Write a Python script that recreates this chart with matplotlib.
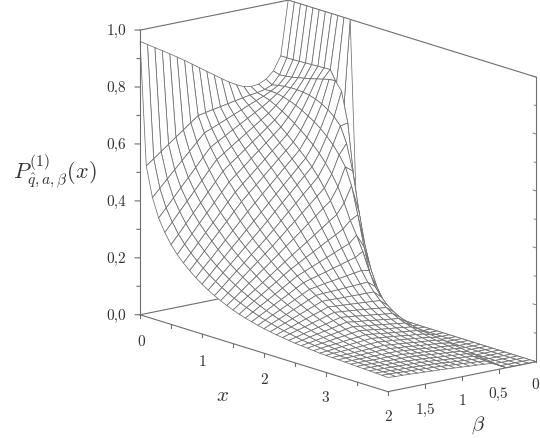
import matplotlib
matplotlib.use('Agg')
import numpy as np
import matplotlib.pyplot as plt

plt.rcParams['mathtext.fontset'] = 'cm'
plt.rcParams['axes.formatter.use_mathtext'] = True

LINE = '#6e6e6e'

x_values = [0.0, 0.1, 0.2, 0.3, 0.4, 0.5, 0.6, 0.7, 0.8, 0.9, 1.0, 1.1, 1.2, 1.3, 1.4, 1.5, 1.6, 1.7, 1.8, 1.9, 2.0,
            2.1, 2.2, 2.3, 2.4, 2.5, 2.6, 2.7, 2.8, 2.9, 3.0, 3.1, 3.2, 3.3, 3.4, 3.5, 3.6, 3.7, 3.8, 3.9, 4.0]
beta_values = [0.0, 0.1, 0.2, 0.3, 0.4, 0.5, 0.6, 0.7, 0.8, 0.9, 1.0, 1.1, 1.2, 1.3, 1.4, 1.5, 1.6, 1.7, 1.8, 1.9, 2.0]

# one row per beta
p_beta_00 = [1, 1, 1, 1, 1, 1, 1, 1, 1, 1, 1, .35, .23, .145, .088, .05, .027, .013, .006, .002, .001, 0, 0, 0, 0, 0, 0, 0, 0, 0, 0, 0, 0, 0, 0, 0, 0, 0, 0, 0, 0]
p_beta_01 = [.81, .81, .81, .811, .812, .813, .814, .815, .816, .775, .64, .40, .25, .16, .10, .062, .038, .023, .013, .007, .004, .002, .001, 0, 0, 0, 0, 0, 0, 0, 0, 0, 0, 0, 0, 0, 0, 0, 0, 0, 0]
p_beta_02 = [.762, .755, .757, .760, .765, .770, .775, .781, .787, .793, .795, .765, .660, .470, .310, .205, .140, .095, .065, .045, .030, .020, .013, .009, .006, .004, .002, .001, .001, 0, 0, 0, 0, 0, 0, 0, 0, 0, 0, 0, 0]
p_beta_03 = [.738, .725, .730, .733, .735, .735, .733, .729, .722, .712, .698, .680, .655, .600, .510, .375, .260, .180, .125, .085, .058, .040, .027, .018, .012, .008, .005, .003, .002, .001, 0, 0, 0, 0, 0, 0, 0, 0, 0, 0, 0]
p_beta_04 = [.726, .714, .715, .713, .708, .701, .692, .681, .668, .654, .637, .617, .594, .565, .530, .470, .375, .270, .180, .130, .100, .080, .064, .054, .047, .042, .037, .032, .027, .022, .017, .013, .009, .006, .004, .003, .002, .001, .001, 0, 0]
p_beta_05 = [.723, .708, .702, .694, .683, .670, .656, .640, .623, .605, .585, .562, .535, .503, .465, .415, .360, .315, .265, .205, .155, .125, .103, .087, .075, .066, .059, .054, .050, .047, .044, .041, .038, .035, .032, .028, .025, .022, .019, .016, .014]
p_beta_06 = [.728, .705, .692, .677, .661, .644, .626, .607, .587, .566, .544, .520, .492, .459, .421, .379, .335, .291, .249, .210, .176, .148, .125, .107, .093, .082, .073, .066, .060, .0545, .050, .046, .0425, .0395, .037, .0345, .0325, .0305, .029, .0275, .026]
p_beta_07 = [.740, .700, .681, .662, .643, .624, .604, .583, .562, .540, .518, .494, .466, .435, .400, .361, .320, .280, .242, .206, .175, .149, .127, .110, .096, .085, .076, .069, .063, .058, .053, .049, .045, .042, .039, .037, .035, .033, .031, .030, .028]
p_beta_08 = [.755, .695, .670, .647, .625, .603, .581, .560, .538, .515, .491, .467, .441, .411, .378, .342, .306, .269, .234, .202, .173, .149, .129, .113, .100, .089, .080, .073, .066, .060, .056, .051, .048, .044, .042, .039, .037, .035, .033, .032, .030]
p_beta_09 = [.772, .690, .659, .632, .607, .583, .559, .536, .513, .489, .465, .441, .415, .387, .357, .324, .291, .258, .227, .198, .172, .150, .131, .116, .103, .092, .083, .076, .069, .064, .059, .054, .050, .047, .044, .042, .039, .037, .035, .034, .032]
p_beta_10 = [.790, .685, .648, .617, .589, .562, .537, .512, .488, .463, .439, .415, .390, .363, .335, .305, .276, .247, .219, .194, .170, .150, .133, .119, .106, .096, .087, .079, .072, .067, .062, .057, .053, .050, .047, .044, .041, .039, .037, .036, .034]
p_beta_11 = [.808, .680, .637, .602, .571, .542, .514, .488, .463, .438, .412, .389, .364, .340, .314, .287, .262, .236, .212, .190, .169, .151, .135, .122, .110, .099, .090, .083, .076, .070, .065, .060, .056, .052, .049, .047, .044, .042, .040, .038, .036]
p_beta_12 = [.826, .675, .626, .587, .553, .522, .492, .465, .439, .412, .386, .362, .338, .316, .293, .269, .247, .225, .205, .185, .168, .152, .137, .124, .113, .102, .093, .086, .079, .073, .067, .062, .058, .055, .051, .049, .046, .044, .042, .040, .038]
p_beta_13 = [.844, .670, .615, .572, .535, .501, .470, .441, .414, .386, .360, .336, .313, .292, .271, .250, .232, .214, .197, .181, .166, .152, .139, .127, .116, .106, .097, .089, .082, .076, .070, .065, .061, .057, .054, .051, .048, .046, .044, .042, .040]
p_beta_14 = [.862, .650, .588, .542, .504, .469, .439, .411, .385, .358, .334, .311, .289, .270, .250, .231, .215, .198, .183, .168, .155, .142, .130, .120, .110, .101, .093, .086, .079, .074, .069, .064, .061, .057, .054, .052, .049, .047, .045, .043, .041]
p_beta_15 = [.879, .630, .561, .511, .472, .438, .408, .380, .355, .330, .307, .286, .266, .248, .230, .212, .197, .182, .168, .155, .143, .132, .122, .112, .103, .095, .088, .082, .077, .072, .067, .063, .060, .057, .055, .052, .050, .048, .046, .045, .043]
p_beta_16 = [.896, .610, .534, .481, .441, .406, .377, .350, .326, .302, .281, .261, .242, .226, .209, .193, .180, .166, .154, .142, .132, .122, .113, .105, .097, .090, .084, .079, .074, .070, .066, .062, .060, .057, .055, .053, .051, .049, .047, .046, .044]
p_beta_17 = [.912, .590, .507, .451, .410, .375, .346, .320, .297, .274, .254, .236, .219, .204, .189, .174, .162, .150, .140, .129, .120, .112, .104, .097, .091, .085, .080, .075, .071, .068, .064, .061, .059, .057, .055, .053, .052, .050, .048, .047, .046]
p_beta_18 = [.928, .570, .480, .420, .379, .343, .314, .289, .267, .246, .228, .211, .195, .181, .168, .156, .145, .135, .125, .117, .109, .102, .095, .090, .085, .080, .075, .072, .069, .066, .063, .060, .059, .057, .056, .054, .053, .051, .050, .049, .047]
p_beta_19 = [.944, .550, .452, .390, .347, .311, .283, .259, .238, .219, .201, .186, .171, .159, .147, .137, .128, .119, .111, .104, .098, .092, .087, .083, .078, .074, .071, .069, .066, .063, .062, .060, .059, .057, .056, .055, .053, .052, .051, .050, .048]
p_beta_20 = [.960, .530, .425, .360, .316, .280, .252, .229, .209, .191, .175, .161, .148, .137, .127, .118, .110, .103, .097, .091, .086, .082, .078, .075, .072, .069, .067, .065, .063, .061, .060, .059, .058, .057, .056, .055, .054, .053, .052, .051, .050]

z_major = [0.0, 0.2, 0.4, 0.6, 0.8, 1.0]
z_minor = [0.1, 0.3, 0.5, 0.7, 0.9]
z_labels = ['0,0', '0,2', '0,4', '0,6', '0,8', '1,0']
z_label_px = [316, 259, 202, 145, 88, 31]
x_ticks = [0, 0.5, 1, 1.5, 2, 2.5, 3, 3.5]
x_labels = ['0', '1', '2', '3']
x_label_px = [(141, 342), (202, 362), (264, 380), (325, 398)]
beta_ticks = [0.5, 1, 1.5, 2]
beta_labels = ['2', '1,5', '1', '0,5', '0']
beta_label_px = [(388, 417), (425, 410), (462, 401), (498, 394), (535, 385)]


def px_text(fig, x, y, s, **kw):
    fig.text(x / 540, 1 - y / 439, s, ha='center', va='center', color='#333333', **kw)


fig = plt.figure(figsize=(5.4, 4.39), dpi=100)
side = 512.3
ax = fig.add_axes([75 / 540, -21 / 439, side / 540, side / 439], projection='3d', proj_type='ortho')
ax.computed_zorder = False
ax.view_init(elev=14.5, azim=-38.9, roll=0)
ax.set_box_aspect((394.7, 190.3, 294))

Z = np.array([p_beta_00, p_beta_01, p_beta_02, p_beta_03, p_beta_04, p_beta_05, p_beta_06,
              p_beta_07, p_beta_08, p_beta_09, p_beta_10, p_beta_11, p_beta_12, p_beta_13,
              p_beta_14, p_beta_15, p_beta_16, p_beta_17, p_beta_18, p_beta_19, p_beta_20])
X, Y = np.meshgrid(x_values, beta_values)

# back of the box goes under the surface
ax.plot([0, 0], [2, 0], [0, 0], color=LINE, lw=0.8, zorder=1)
ax.plot([0, 4], [0, 0], [0, 0], color=LINE, lw=0.8, zorder=1)
ax.plot([0, 0], [0, 0], [0, 1], color=LINE, lw=0.8, zorder=1)
ax.plot([0, 0], [2, 0], [1, 1], color=LINE, lw=0.8, zorder=1)
ax.plot([0, 4], [0, 0], [1, 1], color=LINE, lw=0.8, zorder=1)
ax.plot([4, 4], [0, 0], [0, 1], color=LINE, lw=0.8, zorder=1)

ax.plot_surface(X, Y, Z, rstride=1, cstride=1, color='white', edgecolor=LINE,
                linewidth=0.55, shade=False, antialiased=True, zorder=2)

# front edges and ticks
ax.plot([0, 4], [2, 2], [0, 0], color=LINE, lw=0.8, zorder=3)
ax.plot([4, 4], [2, 0], [0, 0], color=LINE, lw=0.8, zorder=3)
ax.plot([0, 0], [2, 2], [0, 1], color=LINE, lw=0.8, zorder=3)
for t in z_major:
    ax.plot([0, -0.032], [2, 2.04], [t, t], color=LINE, lw=0.8, zorder=3)
    ax.plot([4, 3.95], [0, 0], [t, t], color=LINE, lw=0.6, zorder=1)
for t in z_minor:
    ax.plot([0, -0.02], [2, 2.025], [t, t], color=LINE, lw=0.8, zorder=3)
    ax.plot([4, 3.97], [0, 0], [t, t], color=LINE, lw=0.6, zorder=1)
for t in x_ticks:
    ax.plot([t, t], [2, 2], [0, -0.012], color=LINE, lw=0.8, zorder=3)
for t in beta_ticks:
    ax.plot([4, 4], [t, t], [0, -0.012], color=LINE, lw=0.8, zorder=3)

ax.set_xlim(0, 4)
ax.set_ylim(2, 0)
ax.set_zlim(0, 1)
ax.set_axis_off()

for lab, y in zip(z_labels, z_label_px):
    px_text(fig, 116, y, lab, family='cmr10', fontsize=11)
for lab, (px, py) in zip(x_labels, x_label_px):
    px_text(fig, px, py, lab, family='cmr10', fontsize=11)
for lab, (px, py) in zip(beta_labels, beta_label_px):
    px_text(fig, px, py, lab, family='cmr10', fontsize=11)

px_text(fig, 222, 395, r'$x$', fontsize=15)
px_text(fig, 478, 425, r'$\beta$', fontsize=15)
px_text(fig, 55, 172, r'$P^{(1)}_{\hat{q},a,\beta}(x)$', fontsize=16)

fig.savefig('out.png', dpi=100)
